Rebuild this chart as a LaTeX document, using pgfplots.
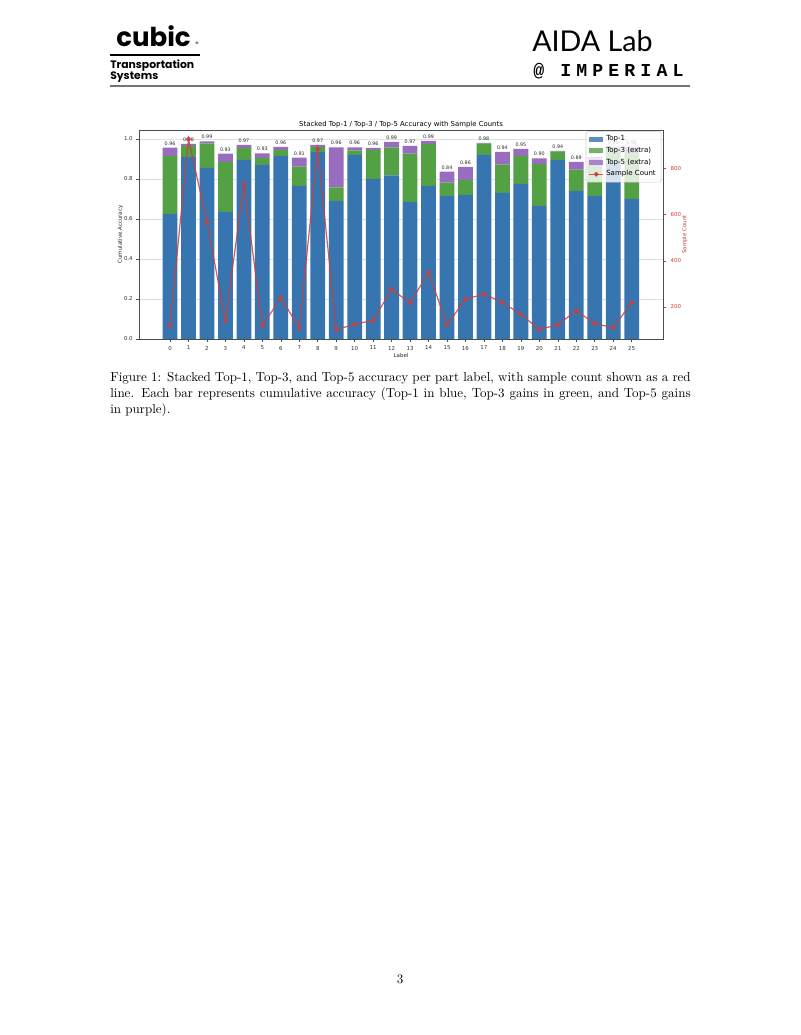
\documentclass[border=0pt]{standalone}
\usepackage{fontspec}
\usepackage{pgfplots}
\usepackage{pgfplotstable}
\pgfplotsset{compat=1.18}
\newfontfamily\dejavu{DejaVu Sans}
\newfontfamily\poppins{Poppins}
\newfontfamily\lato{Lato}
\newfontfamily\imp{Liberation Mono}[LetterSpace=28]
\definecolor{c1}{RGB}{54,117,176}
\definecolor{c3}{RGB}{84,160,68}
\definecolor{c5}{RGB}{152,108,190}
\definecolor{cr}{RGB}{205,62,62}
\newcommand\tfs{\dejavu\fontsize{4.2}{5}\selectfont}
\pgfplotstableread{
x t1 t3 t5 tot lab cnt
0 0.625 0.290 0.042 0.957 0.96 119
1 0.910 0.055 0.011 0.976 0.98 927
2 0.855 0.123 0.010 0.988 0.99 569
3 0.635 0.250 0.042 0.927 0.93 141
4 0.895 0.060 0.015 0.970 0.97 732
5 0.870 0.035 0.023 0.928 0.93 118
6 0.915 0.030 0.015 0.960 0.96 240
7 0.765 0.097 0.045 0.907 0.91 109
8 0.935 0.025 0.010 0.970 0.97 884
9 0.690 0.068 0.200 0.958 0.96 102
10 0.920 0.023 0.015 0.958 0.96 125
11 0.800 0.145 0.010 0.955 0.96 142
12 0.818 0.140 0.027 0.985 0.99 277
13 0.685 0.242 0.038 0.965 0.97 217
14 0.765 0.210 0.015 0.990 0.99 350
15 0.715 0.067 0.055 0.837 0.84 123
16 0.720 0.075 0.065 0.860 0.86 233
17 0.920 0.058 0.002 0.980 0.98 256
18 0.730 0.142 0.063 0.935 0.94 220
19 0.775 0.140 0.035 0.950 0.95 168
20 0.665 0.210 0.028 0.903 0.90 103
21 0.895 0.043 0.002 0.940 0.94 123
22 0.740 0.107 0.039 0.886 0.89 184
23 0.715 0.155 0.040 0.910 0.91 129
24 0.880 0.070 0.010 0.960 0.96 110
25 0.700 0.230 0.030 0.960 0.96 219
}\data
\begin{document}
\begin{tikzpicture}[x=0.765bp,y=0.765bp]
\path[fill=white] (0,0) rectangle (800,1035);
\coordinate (O) at (139,696);
% header
\node[anchor=base west, inner sep=0, font=\poppins\bfseries\fontsize{20}{20}\selectfont] at (116,988) {cubic};
\node[anchor=base west, inner sep=0, font=\poppins\fontsize{5}{5}\selectfont] at (195,988) {®};
\draw[line width=1.5bp] (110,980) -- (200,980);
\node[anchor=base west, inner sep=0, font=\poppins\bfseries\fontsize{8.3}{8.3}\selectfont] at (110,966) {Transportation};
\node[anchor=base west, inner sep=0, font=\poppins\bfseries\fontsize{8.3}{8.3}\selectfont] at (110,955) {Systems};
\node[anchor=base west, inner sep=0, font=\lato\fontsize{22}{22}\selectfont] at (532,983) {AIDA Lab};
\node[anchor=base west, inner sep=0, font=\imp\bfseries\fontsize{14}{14}\selectfont] at (533,958) {@ IMPERIAL};
\draw[line width=0.8bp, black!55] (110,949) -- (690,949);
% chart: bars
\begin{axis}[
  at={(O)}, anchor=south west, scale only axis,
  width=400.9bp, height=159.9bp,
  xmin=-1.68, xmax=26.7, ymin=0, ymax=1.045,
  ybar stacked, bar width=0.8,
  xtick={0,...,25}, ytick={0,0.2,0.4,0.6,0.8,1.0},
  yticklabels={0.0,0.2,0.4,0.6,0.8,1.0},
  xtick pos=bottom, ytick pos=left,
  tick align=outside, major tick length=2.3bp,
  tick style={black!70, line width=0.4bp},
  axis line style={black!70, line width=0.5bp},
  ymajorgrids, grid style={black!12, line width=0.4bp},
  /pgf/number format/assume math mode=true,
  tick label style={font=\tfs, text=black!80},
  xticklabel style={yshift=0.5bp},
  yticklabel style={xshift=1bp},
  xlabel={Label}, ylabel={Cumulative Accuracy},
  label style={font=\tfs, text=black!85},
  xlabel style={yshift=4.5bp},
  ylabel style={yshift=-6bp},
  title={Stacked Top-1 / Top-3 / Top-5 Accuracy with Sample Counts},
  title style={font=\dejavu\fontsize{5.3}{6}\selectfont, yshift=-8bp},
]
\addplot[fill=c1, draw=none] table[x=x,y=t1]{\data};
\addplot[fill=c3, draw=none] table[x=x,y=t3]{\data};
\addplot[fill=c5, draw=none] table[x=x,y=t5]{\data};
\end{axis}
% value labels
\begin{axis}[
  at={(O)}, anchor=south west, scale only axis,
  width=400.9bp, height=159.9bp,
  xmin=-1.68, xmax=26.7, ymin=0, ymax=1.045, hide axis, clip=false,
]
\addplot[draw=none, nodes near coords, point meta=explicit symbolic,
  nodes near coords style={font=\dejavu\fontsize{3.7}{4}\selectfont, anchor=south, inner sep=0pt, yshift=1.6bp, text=black!85}]
  table[x=x,y=tot,meta=lab]{\data};
\end{axis}
% sample count
\begin{axis}[
  at={(O)}, anchor=south west, scale only axis,
  width=400.9bp, height=159.9bp,
  xmin=-1.68, xmax=26.7, ymin=61.4, ymax=966.8,
  axis x line=none, axis y line*=right,
  ytick={200,400,600,800},
  tick align=outside, major tick length=2.3bp,
  y axis line style={black!70, line width=0.5bp},
  ytick style={cr, line width=0.4bp},
  /pgf/number format/assume math mode=true,
  yticklabel style={font=\tfs, text=cr},
  ylabel={Sample Count}, ylabel style={font=\tfs, text=cr, yshift=6bp},
  legend style={at={(0.997,0.994)}, anchor=north east,
    font=\dejavu\fontsize{5.4}{6}\selectfont, fill=white, fill opacity=0.8,
    text opacity=1, draw=black!20, rounded corners=1.5bp,
    inner xsep=2.2bp, inner ysep=1.2bp, row sep=-0.6bp},
  legend cell align=left,
]
\addlegendimage{legend image code/.code={\fill[c1, draw=none, sharp corners] (0bp,-1.9bp) rectangle (10.4bp,1.9bp);}}
\addlegendentry{Top-1}
\addlegendimage{legend image code/.code={\fill[c3, draw=none, sharp corners] (0bp,-1.9bp) rectangle (10.4bp,1.9bp);}}
\addlegendentry{Top-3 (extra)}
\addlegendimage{legend image code/.code={\fill[c5, draw=none, sharp corners] (0bp,-1.9bp) rectangle (10.4bp,1.9bp);}}
\addlegendentry{Top-5 (extra)}
\addplot[cr, opacity=0.85, line width=0.9bp, mark=*, mark size=1.4bp,
  mark options={fill=cr, draw=cr},
  legend image code/.code={\draw[cr, sharp corners, line width=0.9bp] (0bp,0bp) -- (10.4bp,0bp); \fill[cr] (5.2bp,0bp) circle (1.4bp);}]
  table[x=x,y=cnt]{\data};
\addlegendentry{Sample Count}
\end{axis}
% caption
\node[anchor=base west, inner sep=0] at (110,653) {\makebox[444bp][s]{Figure 1: Stacked Top-1, Top-3, and Top-5 accuracy per part label, with sample count shown as a red}};
\node[anchor=base west, inner sep=0] at (110,637.3) {\makebox[444bp][s]{line. Each bar represents cumulative accuracy (Top-1 in blue, Top-3 gains in green, and Top-5 gains}};
\node[anchor=base west, inner sep=0] at (110,621.6) {in purple).};
\node[anchor=base, inner sep=0] at (400,51) {3};
\end{tikzpicture}
\end{document}
